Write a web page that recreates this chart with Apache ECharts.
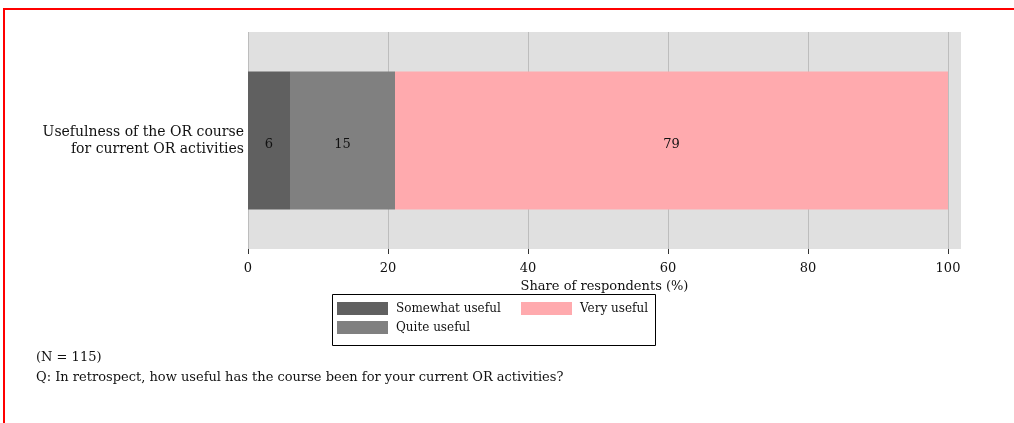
<!DOCTYPE html>
<html>
<head>
<meta charset="utf-8">
<script src="https://cdn.jsdelivr.net/npm/echarts@6/dist/echarts.min.js"></script>
<style>
  body { margin: 0; background: #fff; }
  #frame { position: absolute; left: 3px; top: 8px; width: 1020px; height: 430px;
           border-top: 2px solid #ff0000; border-left: 2px solid #ff0000; }
  #main { position: absolute; left: 0; top: 0; width: 1014px; height: 423px; }
</style>
</head>
<body>
<div id="frame"></div>
<div id="main"></div>
<script>
// chart data
const categories = ['Usefulness of the OR course\nfor current OR activities'];
const seriesNames = ['Somewhat useful', 'Quite useful', 'Very useful'];
const somewhatUseful = [6];
const quiteUseful = [15];
const veryUseful = [79];
const tickValues = [0, 20, 40, 60, 80, 100];
const colors = ['#606060', '#808080', '#ffaaae'];

const serif = '"DejaVu Serif", "Liberation Serif", serif';

const chart = echarts.init(document.getElementById('main'));

function barSeries(name, data, color) {
  return {
    name: name,
    type: 'bar',
    stack: 'total',
    data: data,
    barWidth: 138,
    itemStyle: { color: color },
    label: {
      show: true,
      position: 'inside',
      offset: [0, 4],
      color: '#111',
      fontFamily: serif,
      fontSize: 13
    }
  };
}

chart.setOption({
  animation: false,
  grid: {
    left: 248, right: 53, top: 32, bottom: 174,
    show: true, backgroundColor: '#e0e0e0', borderWidth: 0
  },
  xAxis: {
    type: 'value',
    min: 0,
    max: 713 / 7,
    interval: 20,
    name: 'Share of respondents (%)',
    nameLocation: 'middle',
    nameGap: 20,
    nameTextStyle: { fontFamily: serif, fontSize: 13, color: '#111' },
    axisLine: { show: false },
    axisTick: { show: true, length: 5, customValues: tickValues, lineStyle: { color: '#333' } },
    axisLabel: { customValues: tickValues, margin: 13, fontFamily: serif, fontSize: 13, color: '#111' },
    splitLine: { show: true, lineStyle: { color: '#bdbdbd', width: 1 } }
  },
  yAxis: {
    type: 'category',
    data: categories,
    axisLine: { show: false },
    axisTick: { show: false },
    axisLabel: { margin: 4, fontFamily: serif, fontSize: 14, lineHeight: 17, color: '#111', align: 'right' }
  },
  legend: [
    {
      data: [seriesNames[0], seriesNames[1]],
      orient: 'vertical',
      left: 337, top: 302,
      itemWidth: 51, itemHeight: 13, itemGap: 6,
      padding: 0,
      icon: 'rect',
      textStyle: { fontFamily: serif, fontSize: 12, color: '#111', padding: [0, 0, 0, 3] }
    },
    {
      data: [seriesNames[2]],
      orient: 'vertical',
      left: 521, top: 302,
      itemWidth: 51, itemHeight: 13,
      padding: 0,
      icon: 'rect',
      textStyle: { fontFamily: serif, fontSize: 12, color: '#111', padding: [0, 0, 0, 3] }
    }
  ],
  graphic: [
    {
      type: 'rect',
      shape: { x: 332.5, y: 294.5, width: 323, height: 51 },
      style: { fill: 'none', stroke: '#000', lineWidth: 1 },
      silent: true
    },
    {
      type: 'text', left: 36, top: 351,
      style: { text: '(N = 115)', font: '13px ' + serif, fill: '#111' }
    },
    {
      type: 'text', left: 36, top: 371,
      style: { text: 'Q: In retrospect, how useful has the course been for your current OR activities?', font: '13px ' + serif, fill: '#111' }
    }
  ],
  series: [
    barSeries(seriesNames[0], somewhatUseful, colors[0]),
    barSeries(seriesNames[1], quiteUseful, colors[1]),
    barSeries(seriesNames[2], veryUseful, colors[2])
  ]
});
</script>
</body>
</html>
